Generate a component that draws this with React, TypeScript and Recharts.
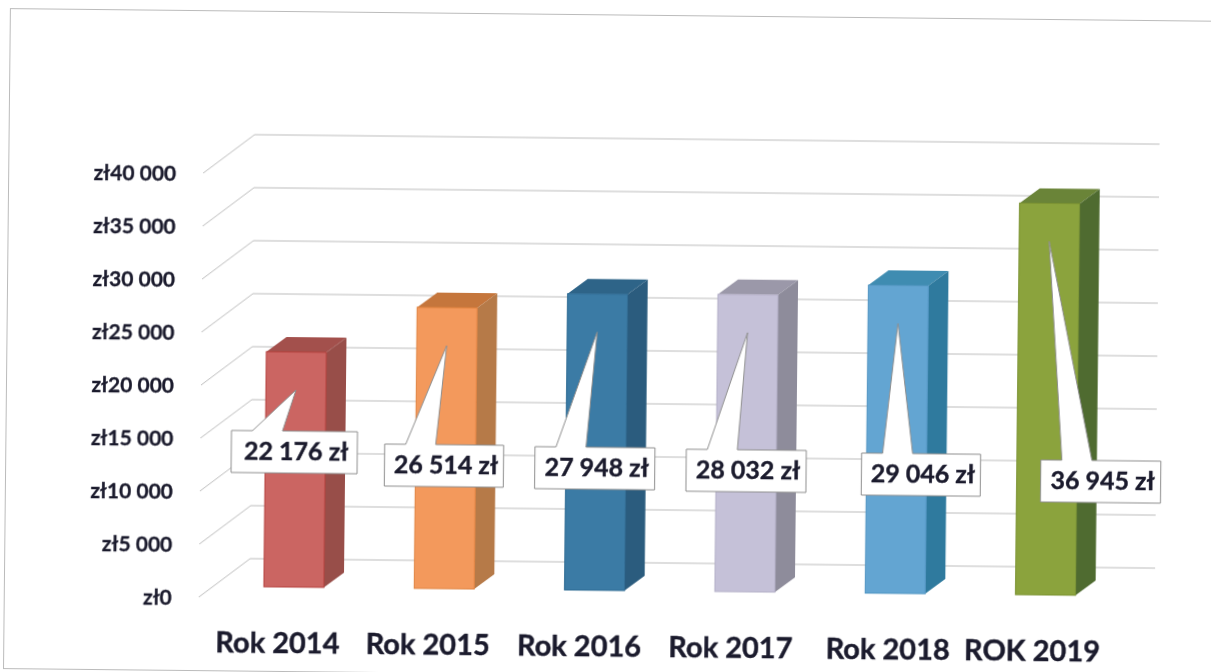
import { BarChart, Bar, XAxis, YAxis, CartesianGrid, LabelList } from 'recharts';

// values
const categories = ['Rok 2014', 'Rok 2015', 'Rok 2016', 'Rok 2017', 'Rok 2018', 'ROK 2019'];
const amounts = [22176, 26514, 27948, 28032, 29046, 36945];
const amountTicks = [0, 5000, 10000, 15000, 20000, 25000, 30000, 35000, 40000];

const chartData = categories.map((name, i) => ({ name, value: amounts[i] }));

// front, side and top face of each column
const FRONT = ['#cb6562', '#f3995c', '#3b7ba5', '#c5c1d8', '#63a5d2', '#8ba33d'];
const SIDE = ['#984e49', '#b67a48', '#2b5c7e', '#8e8c9b', '#2f7a9e', '#4f6b30'];
const TOP = ['#a3504c', '#c5763c', '#2e6488', '#9b98a9', '#3f8cb1', '#6a8438'];
const EDGE = ['#b5423f', '#e0823f', '#2d6a92', '#b4b0c8', '#4f94c2', '#7a9230'];

// the labels sit by hand in the original, so each one has its own offset
const BOX_DX = [-64, -61, -61, -60, -35, -6];
const BOX_TOP = [428, 440, 441, 442, 444, 449];
const BOX_W = [126, 119, 120, 120, 119, 120];
const NAME_DX = [-16, -16, -15, -14, -7, -13];

const COL_LIFT = 11; // columns stand a little behind the front of the floor
const DEPTH_X = 20;
const DEPTH_Y = 15;
const INK = '#1b1b2d';
const FONT = 'Lato, sans-serif';

const money = (v: number) => `${v}`.replace(/\B(?=(\d{3})+$)/g, ' ');

function gridLine(p: any) {
  const d = `M${p.x1 - 20},${p.y1} L${p.x1 + 31},${p.y1 - 39} L${p.x2 + 34},${p.y1 - 39}`;
  return <path key={p.key} d={d} fill="none" stroke="#bdbdbd" strokeWidth={1} />;
}

function Column(p: any) {
  const { x, width, height, index } = p;
  const y = p.y - COL_LIFT;
  const r = x + width;
  const b = y + height;
  return (
    <g>
      <path d={`M${x},${y} L${x + DEPTH_X},${y - DEPTH_Y} L${r + DEPTH_X},${y - DEPTH_Y} L${r},${y} Z`} fill={TOP[index]} />
      <path d={`M${r},${y} L${r + DEPTH_X},${y - DEPTH_Y} L${r + DEPTH_X},${b - DEPTH_Y} L${r},${b} Z`} fill={SIDE[index]} />
      <rect x={x} y={y} width={width} height={height} fill={FRONT[index]} stroke={EDGE[index]} strokeWidth={1} />
    </g>
  );
}

function Callout(p: any) {
  const { x, y, width, value, index } = p;
  const cx = x + width / 2;
  const left = cx + BOX_DX[index];
  const top = BOX_TOP[index];
  const w = BOX_W[index];
  const tipY = y - COL_LIFT + 38;
  const h = 42;
  const outline = `M${left},${top} L${left + 21},${top} L${cx},${tipY} L${left + 51},${top} L${left + w},${top} L${left + w},${top + h} L${left},${top + h} Z`;
  return (
    <g>
      <path d={outline} fill="#fff" stroke="#8f8f8f" strokeWidth={1} />
      <text x={left + w / 2 + 2} y={top + h / 2 - 2} textAnchor="middle" dominantBaseline="central" fontFamily={FONT} fontWeight={700} fontSize={25} fill={INK} stroke={INK} strokeWidth={0.4}>
        {`${money(value)} zł`}
      </text>
    </g>
  );
}

function NameTick(p: any) {
  const { x, payload, index } = p;
  return (
    <text x={x + NAME_DX[index]} y={638} textAnchor="middle" dominantBaseline="central" fontFamily={FONT} fontWeight={700} fontSize={29} fill={INK} stroke={INK} strokeWidth={0.4}>
      {payload.value}
    </text>
  );
}

export default function App() {
  return (
    <div style={{ position: 'absolute', left: 0, top: 0, width: 1211, height: 672, overflow: 'hidden', background: '#fff' }}>
      {/* the source is a slightly crooked scan */}
      <div style={{ position: 'absolute', left: 0, top: 0, width: 1240, height: 700, transform: 'rotate(0.6deg)', transformOrigin: '0 0', filter: 'blur(0.4px)' }}>
        <div style={{ position: 'absolute', left: 10, top: 8, width: 1215, height: 659, border: '1px solid #bbbbbb' }} />
        <BarChart
          width={1211}
          height={672}
          data={chartData}
          barSize={60}
          margin={{ top: 171, right: 84, bottom: 0, left: 95 }}
        >
          <CartesianGrid vertical={false} horizontal={gridLine} />
          <XAxis dataKey="name" height={77} axisLine={false} tickLine={false} interval={0} tick={<NameTick />} />
          <YAxis
            width={130}
            domain={[0, 40000]}
            ticks={amountTicks}
            axisLine={false}
            tickLine={false}
            tickSize={0}
            tickMargin={47}
            tickFormatter={(v: number) => `zł${money(v)}`}
            tick={{ fontFamily: FONT, fontWeight: 700, fontSize: 21, fill: INK, stroke: INK, strokeWidth: 0.3, dy: 1 }}
          />
          <Bar dataKey="value" shape={<Column />} isAnimationActive={false}>
            <LabelList dataKey="value" content={<Callout />} />
          </Bar>
        </BarChart>
      </div>
    </div>
  );
}
